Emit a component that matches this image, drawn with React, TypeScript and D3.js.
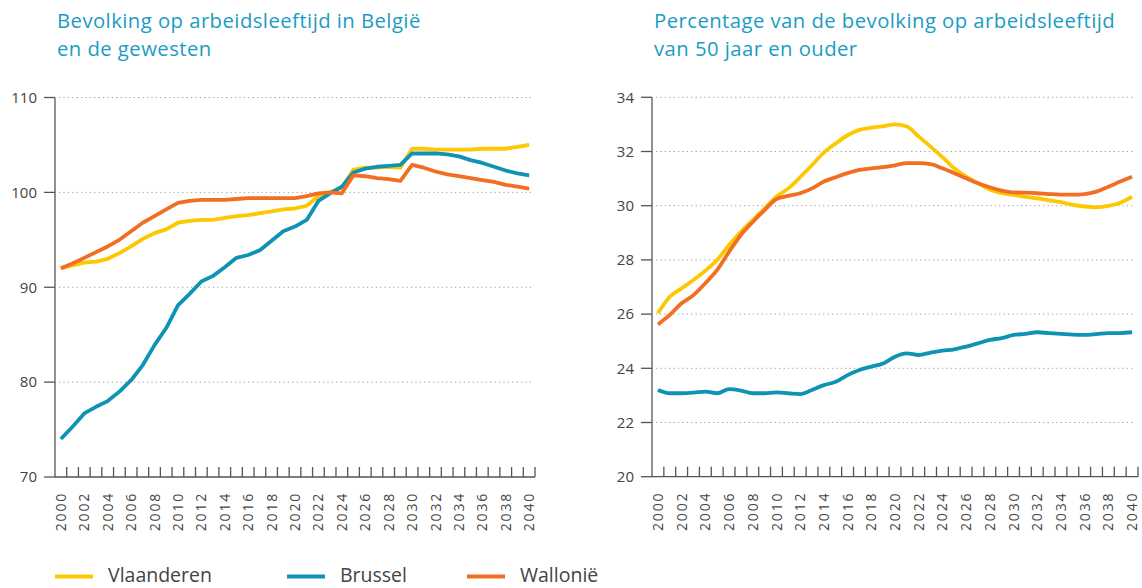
import React from "react";
import * as d3 from "d3";

const years: number[] = d3.range(2000, 2041);
const yearLabels: number[] = years.filter((y) => y % 2 === 0);

// Left chart: index of working-age population
const leftVlaanderen = [92.0, 92.3, 92.6, 92.7, 93.0, 93.6, 94.3, 95.1, 95.7, 96.1, 96.8, 97.0, 97.1, 97.1, 97.3, 97.5, 97.6, 97.8, 98.0, 98.2, 98.3, 98.6, 99.6, 100.0, 100.5, 102.4, 102.6, 102.6, 102.7, 102.6, 104.6, 104.6, 104.5, 104.5, 104.5, 104.5, 104.6, 104.6, 104.6, 104.8, 105.0];
const leftBrussel = [74.0, 75.3, 76.7, 77.4, 78.0, 79.0, 80.2, 81.8, 83.9, 85.7, 88.1, 89.3, 90.6, 91.2, 92.1, 93.1, 93.4, 93.9, 94.9, 95.9, 96.4, 97.1, 99.1, 99.9, 100.6, 102.1, 102.5, 102.7, 102.8, 102.9, 104.1, 104.1, 104.1, 104.0, 103.8, 103.4, 103.1, 102.7, 102.3, 102.0, 101.8];
const leftWallonie = [92.0, 92.5, 93.1, 93.7, 94.3, 95.0, 95.9, 96.8, 97.5, 98.2, 98.9, 99.1, 99.2, 99.2, 99.2, 99.3, 99.4, 99.4, 99.4, 99.4, 99.4, 99.6, 99.9, 100.0, 99.9, 101.8, 101.7, 101.5, 101.4, 101.2, 102.9, 102.6, 102.2, 101.9, 101.7, 101.5, 101.3, 101.1, 100.8, 100.6, 100.4];
const leftTicks = [70, 80, 90, 100, 110];

// Right chart: share aged 50+ (%)
const rightVlaanderen = [26.03, 26.64, 26.95, 27.26, 27.6, 28.0, 28.55, 29.04, 29.47, 29.9, 30.33, 30.64, 31.05, 31.5, 31.96, 32.3, 32.6, 32.8, 32.88, 32.93, 33.0, 32.92, 32.55, 32.18, 31.79, 31.38, 31.07, 30.83, 30.6, 30.46, 30.4, 30.33, 30.27, 30.2, 30.13, 30.03, 29.97, 29.94, 29.99, 30.11, 30.33];
const rightBrussel = [23.2, 23.08, 23.08, 23.1, 23.14, 23.08, 23.23, 23.18, 23.08, 23.08, 23.11, 23.08, 23.05, 23.2, 23.38, 23.5, 23.75, 23.94, 24.06, 24.18, 24.43, 24.55, 24.49, 24.58, 24.65, 24.7, 24.8, 24.92, 25.05, 25.11, 25.23, 25.27, 25.33, 25.3, 25.27, 25.24, 25.23, 25.26, 25.3, 25.3, 25.33];
const rightWallonie = [25.62, 25.97, 26.4, 26.7, 27.14, 27.63, 28.3, 28.92, 29.4, 29.84, 30.24, 30.36, 30.46, 30.64, 30.89, 31.05, 31.2, 31.32, 31.38, 31.42, 31.49, 31.57, 31.57, 31.53, 31.38, 31.2, 31.01, 30.83, 30.68, 30.56, 30.49, 30.48, 30.46, 30.43, 30.41, 30.41, 30.43, 30.52, 30.7, 30.89, 31.07];
const rightTicks = [20, 22, 24, 26, 28, 30, 32, 34];

const seriesNames = ["Vlaanderen", "Brussel", "Wallonië"];
const colors = ["#fcc800", "#0f93b4", "#f26e22"];

const FONT = "'Open Sans', 'Noto Sans', sans-serif";
const TITLE_COLOR = "#1b9cc4";
const AXIS_COLOR = "#555";
const TEXT_COLOR = "#444";

type PanelProps = {
  x0: number;
  x1: number;
  yTop: number;
  yBottom: number;
  domain: [number, number];
  ticks: number[];
  series: number[][];
  title: string[];
  curve: d3.CurveFactory;
};

function Panel({ x0, x1, yTop, yBottom, domain, ticks, series, title, curve }: PanelProps) {
  const x = d3.scaleBand<number>().domain(years).range([x0, x1]).padding(0);
  const bw = x.bandwidth();
  const cx = (yr: number) => (x(yr) as number) + bw / 2;
  const y = d3.scaleLinear().domain(domain).range([yBottom, yTop]);
  const line = d3
    .line<number>()
    .x((_, i) => cx(years[i]))
    .y((d) => y(d))
    .curve(curve);
  const boundaries = years.map((yr) => (x(yr) as number) + bw);

  return (
    <g>
      {title.map((t, i) => (
        <text key={i} x={x0 + 2} y={28 + i * 27.8} fill={TITLE_COLOR} fontSize={20.3} letterSpacing={0.45} fontFamily={FONT}>
          {t}
        </text>
      ))}
      {ticks.slice(1).map((t) => (
        <line key={"g" + t} x1={x0 + 4} x2={x1 - 3} y1={y(t)} y2={y(t)} stroke="#9a9a9a" strokeWidth={1} strokeDasharray="1.2,3.2" />
      ))}
      {/* y axis */}
      <line x1={x0} x2={x0} y1={y(domain[1])} y2={y(domain[0])} stroke={AXIS_COLOR} strokeWidth={1.3} />
      {ticks.map((t) => (
        <g key={"t" + t}>
          <line x1={x0 - 11} x2={x0} y1={y(t)} y2={y(t)} stroke={AXIS_COLOR} strokeWidth={1.3} />
          <text x={x0 - 18} y={y(t)} dy="0.35em" textAnchor="end" fontSize={15} fill={TEXT_COLOR} fontFamily={FONT}>
            {t}
          </text>
        </g>
      ))}
      {/* x axis */}
      <line x1={x0} x2={x1} y1={yBottom} y2={yBottom} stroke={AXIS_COLOR} strokeWidth={1.3} />
      {boundaries.map((b, i) => (
        <line key={"b" + i} x1={b} x2={b} y1={yBottom} y2={yBottom - 10} stroke={AXIS_COLOR} strokeWidth={1.3} />
      ))}
      {yearLabels.map((yr) => (
        <text
          key={"l" + yr}
          transform={`translate(${cx(yr)},${yBottom + 15}) rotate(-90)`}
          textAnchor="end"
          dy="0.36em"
          fontSize={14}
          letterSpacing={1.8}
          fill={TEXT_COLOR}
          fontFamily={FONT}
        >
          {yr}
        </text>
      ))}
      {series.map((s, i) => (
        <path key={"s" + i} d={line(s) || ""} fill="none" stroke={colors[i]} strokeWidth={3.8} strokeLinejoin="round" strokeLinecap="butt" />
      ))}
    </g>
  );
}

export default function App() {
  const legendX = [55, 287, 467];
  return (
    <svg width={1142} height={588} style={{ position: "absolute", left: 0, top: 0, background: "#fff" }}>
      <Panel
        x0={55}
        x1={535}
        yTop={97.5}
        yBottom={477}
        domain={[70, 110]}
        ticks={leftTicks}
        series={[leftVlaanderen, leftBrussel, leftWallonie]}
        title={["Bevolking op arbeidsleeftijd in België", "en de gewesten"]}
        curve={d3.curveLinear}
      />
      <Panel
        x0={652}
        x1={1138}
        yTop={97.3}
        yBottom={476.7}
        domain={[20, 34]}
        ticks={rightTicks}
        series={[rightVlaanderen, rightBrussel, rightWallonie]}
        title={["Percentage van de bevolking op arbeidsleeftijd", "van 50 jaar en ouder"]}
        curve={d3.curveMonotoneX}
      />
      {seriesNames.map((n, i) => (
        <g key={n}>
          <line x1={legendX[i]} x2={legendX[i] + 38} y1={576.5} y2={576.5} stroke={colors[i]} strokeWidth={4} />
          <text x={legendX[i] + 53} y={582} fontSize={19.5} fill={TEXT_COLOR} fontFamily={FONT}>
            {n}
          </text>
        </g>
      ))}
    </svg>
  );
}
